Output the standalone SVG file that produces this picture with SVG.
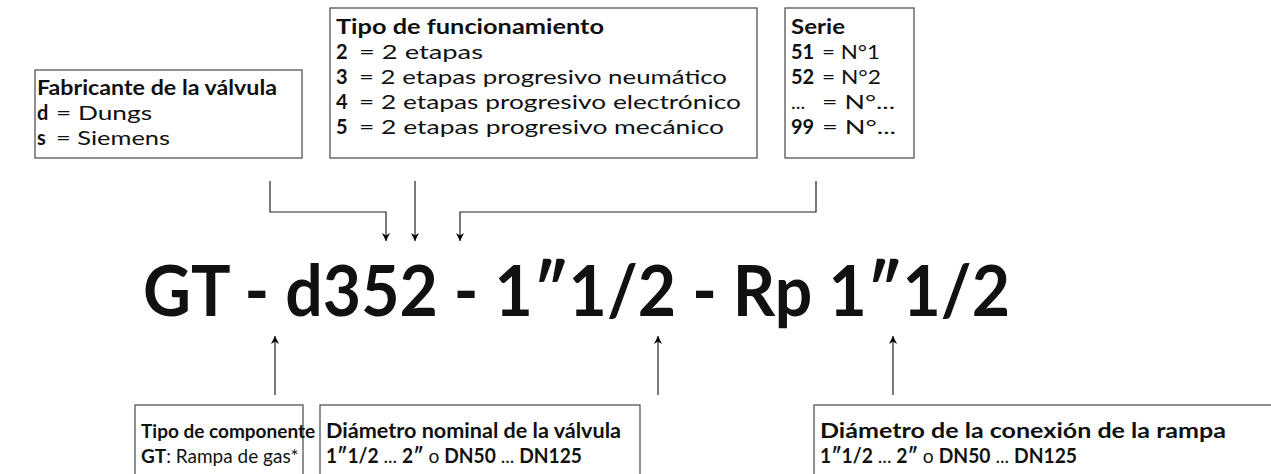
<svg xmlns="http://www.w3.org/2000/svg" width="1271" height="474" viewBox="0 0 1271 474">
<style>
text{font-family:Lato,"Noto Sans","Liberation Sans",sans-serif;fill:#111;font-size:20px}
.b{font-weight:700}
.s19{font-size:19px}
.box{fill:#fff;stroke:#555;stroke-width:1.3}
.ln{fill:none;stroke:#222;stroke-width:1.2}
.title{font-size:70px;font-weight:700}
</style>
<defs>
<marker id="ah" viewBox="0 0 10 10" refX="10" refY="5" markerWidth="8" markerHeight="11" markerUnits="userSpaceOnUse" orient="auto">
<path d="M0,0 L10,5 L0,10 L3,5 Z" fill="#000"/>
</marker>
</defs>
<g id="fabricante">
<rect class="box" x="35" y="70" width="267" height="88"/>
<text class="b" x="37" y="95" textLength="240" lengthAdjust="spacingAndGlyphs">Fabricante de la válvula</text>
<text class="b" x="37" y="120">d</text>
<text x="56" y="120" textLength="96" lengthAdjust="spacingAndGlyphs">= Dungs</text>
<text class="b" x="37" y="145">s</text>
<text x="56" y="145" textLength="114" lengthAdjust="spacingAndGlyphs">= Siemens</text>
</g>
<g id="funcionamiento">
<rect class="box" x="330" y="8" width="427" height="150"/>
<text class="b" x="336" y="34" textLength="268" lengthAdjust="spacingAndGlyphs">Tipo de funcionamiento</text>
<text class="b" x="336" y="59">2</text>
<text x="359" y="59" textLength="124" lengthAdjust="spacingAndGlyphs">= 2 etapas</text>
<text class="b" x="336" y="84">3</text>
<text x="359" y="84" textLength="368" lengthAdjust="spacingAndGlyphs">= 2 etapas progresivo neumático</text>
<text class="b" x="336" y="109">4</text>
<text x="359" y="109" textLength="382" lengthAdjust="spacingAndGlyphs">= 2 etapas progresivo electrónico</text>
<text class="b" x="336" y="134">5</text>
<text x="359" y="134" textLength="365" lengthAdjust="spacingAndGlyphs">= 2 etapas progresivo mecánico</text>
</g>
<g id="serie">
<rect class="box" x="785" y="8" width="129" height="150"/>
<text class="b" x="791" y="34" textLength="54" lengthAdjust="spacingAndGlyphs">Serie</text>
<text class="b" x="791" y="59">51</text>
<text x="822" y="59" textLength="58" lengthAdjust="spacingAndGlyphs">= N°1</text>
<text class="b" x="791" y="84">52</text>
<text x="822" y="84" textLength="59" lengthAdjust="spacingAndGlyphs">= N°2</text>
<text x="791" y="109">...</text>
<text x="822" y="109" textLength="73" lengthAdjust="spacingAndGlyphs">= N°...</text>
<text class="b" x="791" y="134">99</text>
<text x="822" y="134" textLength="74" lengthAdjust="spacingAndGlyphs">= N°...</text>
</g>
<g id="codigo">
<text class="title" x="143" y="316" textLength="867" lengthAdjust="spacingAndGlyphs">GT - d352 - 1″1/2 - Rp 1″1/2</text>
</g>
<g id="componente">
<rect class="box" x="135" y="405" width="168" height="80"/>
<text class="b s19" x="141" y="438">Tipo de componente</text>
<text class="s19" x="141" y="463"><tspan class="b">GT</tspan>: Rampa de gas*</text>
</g>
<g id="nominal">
<rect class="box" x="320" y="405" width="320" height="80"/>
<text class="b" x="326" y="438" textLength="295" lengthAdjust="spacingAndGlyphs">Diámetro nominal de la válvula</text>
<text x="326" y="463" textLength="256" lengthAdjust="spacingAndGlyphs"><tspan class="b">1″1/2</tspan> ... <tspan class="b">2″</tspan> o <tspan class="b">DN50</tspan> ... <tspan class="b">DN125</tspan></text>
</g>
<g id="conexion">
<rect class="box" x="814" y="405" width="470" height="80"/>
<text class="b" x="820" y="438" textLength="406" lengthAdjust="spacingAndGlyphs">Diámetro de la conexión de la rampa</text>
<text x="820" y="463" textLength="257" lengthAdjust="spacingAndGlyphs"><tspan class="b">1″1/2</tspan> ... <tspan class="b">2″</tspan> o <tspan class="b">DN50</tspan> ... <tspan class="b">DN125</tspan></text>
</g>
<g id="connectors">
<path class="ln" d="M270,181 V212 H386 V241" marker-end="url(#ah)"/>
<path class="ln" d="M415,181 V241" marker-end="url(#ah)"/>
<path class="ln" d="M816,181 V212 H460 V241" marker-end="url(#ah)"/>
<path class="ln" d="M275,395 V336" marker-end="url(#ah)"/>
<path class="ln" d="M658,395 V336" marker-end="url(#ah)"/>
<path class="ln" d="M893,395 V336" marker-end="url(#ah)"/>
</g>
</svg>
